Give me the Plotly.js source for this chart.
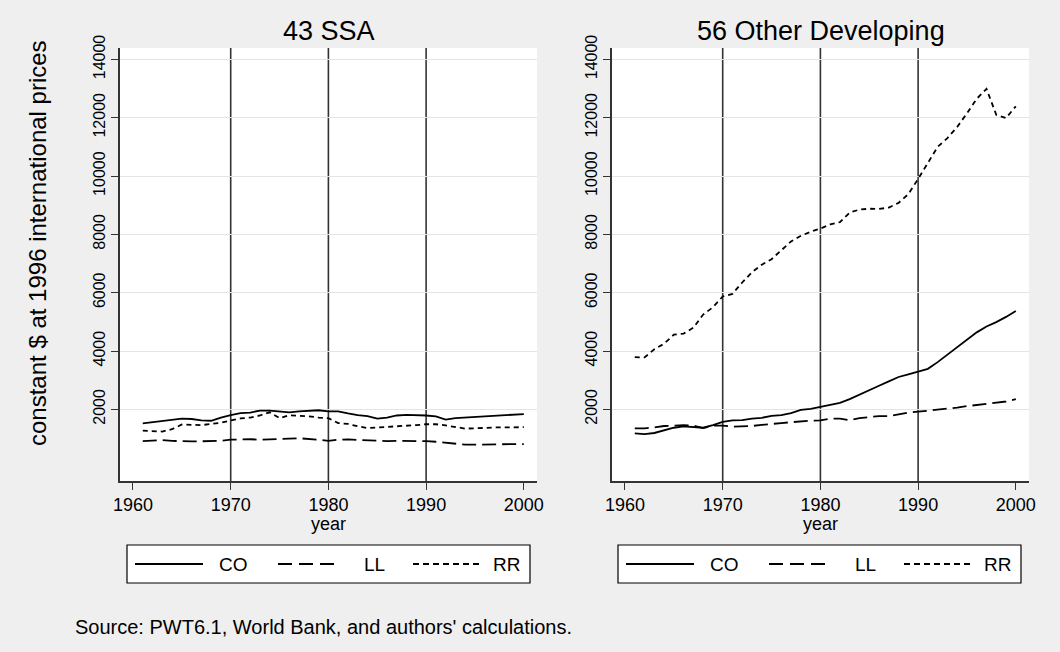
<!DOCTYPE html>
<html>
<head>
<meta charset="utf-8">
<script src="https://cdn.plot.ly/plotly-3.0.1.min.js"></script>
<style>html,body{margin:0;padding:0;background:#efefef;}#chart{width:1060px;height:652px;}</style>
</head>
<body>
<div id="chart"></div>
<script>
// ---- data ----
var years = [1961,1962,1963,1964,1965,1966,1967,1968,1969,1970,
             1971,1972,1973,1974,1975,1976,1977,1978,1979,1980,
             1981,1982,1983,1984,1985,1986,1987,1988,1989,1990,
             1991,1992,1993,1994,1995,1996,1997,1998,1999,2000];

var panelTitles = ["43 SSA", "56 Other Developing"];
var seriesNames = ["CO", "LL", "RR"];

// 43 SSA
var ssaCO = [1520,1560,1600,1650,1680,1670,1620,1610,1720,1800,
             1870,1890,1960,1960,1920,1900,1930,1960,1970,1930,
             1930,1860,1800,1770,1680,1720,1790,1810,1810,1790,
             1760,1650,1700,1720,1740,1780,1800,1820,1840,1840];
var ssaLL = [910,930,950,920,900,900,905,905,920,960,
             980,975,960,980,990,1000,1010,990,960,920,
             960,970,950,930,910,910,920,920,930,910,
             890,860,830,790,790,800,810,810,810,810];
var ssaRR = [1270,1260,1240,1320,1480,1470,1460,1500,1540,1620,
             1690,1720,1790,1900,1700,1800,1790,1760,1720,1700,
             1530,1500,1420,1360,1380,1400,1400,1430,1460,1490,
             1490,1450,1400,1340,1350,1370,1380,1380,1380,1390];

// 56 Other Developing
var odCO = [1180,1150,1190,1290,1370,1420,1390,1370,1460,1570,
            1620,1630,1680,1710,1780,1800,1870,1980,2020,2080,
            2140,2220,2350,2510,2670,2810,2960,3110,3200,3290,
            3390,3620,3870,4130,4400,4640,4840,4990,5170,5370];
var odLL = [1350,1350,1380,1430,1440,1460,1440,1360,1440,1440,
            1410,1410,1430,1470,1510,1530,1560,1590,1610,1620,
            1680,1680,1630,1700,1740,1770,1770,1830,1890,1920,
            1950,2000,2010,2060,2110,2150,2200,2240,2270,2350];
var odRR = [3790,3780,4060,4250,4560,4600,4800,5250,5500,5870,
            5960,6350,6700,6960,7150,7470,7760,7950,8090,8200,
            8340,8420,8750,8850,8880,8870,8920,9080,9380,9900,
            10450,11000,11300,11680,12150,12650,12990,12100,11990,12390];

var xTicks = [1960,1970,1980,1990,2000];
var yTicks = [2000,4000,6000,8000,10000,12000,14000];
var yTickText = ["2000","4000","6000","8000","10000","12000","14000"];
var xLines = [1970,1980,1990];

// ---- layout helpers ----
var W = 1060, H = 652;
function px(x){ return x / W; }
function py(y){ return 1 - y / H; }

var dashes = ["solid", "14px,6px", "5px,4px"];
var legendDashes = ["solid", "14px,7px", "6px,4px"];
var FONT = "Liberation Sans, Arial, Helvetica, sans-serif";

function mk(x, y, name, i, xa, ya){
  return {x: x, y: y, name: name, type: "scatter", mode: "lines",
          xaxis: xa, yaxis: ya, showlegend: false,
          line: {color: "#000", width: 1.8, dash: dashes[i]},
          hoverinfo: "skip"};
}

var traces = [
  mk(years, ssaCO, seriesNames[0], 0, "x", "y"),
  mk(years, ssaLL, seriesNames[1], 1, "x", "y"),
  mk(years, ssaRR, seriesNames[2], 2, "x", "y"),
  mk(years, odCO, seriesNames[0], 0, "x2", "y2"),
  mk(years, odLL, seriesNames[1], 1, "x2", "y2"),
  mk(years, odRR, seriesNames[2], 2, "x2", "y2")
];

var yTop = 48, yBot = 481;
var xRange = [1958.67, 2001.35];
var yRange = [-456, 14390];

function xax(d0, d1, anchor){
  return {domain: [px(d0), px(d1)], range: xRange, anchor: anchor, automargin: false,
          tickvals: xTicks, ticks: "outside", ticklen: 7, tickwidth: 1.3, tickcolor: "#333",
          showgrid: false, zeroline: false, showline: true, linecolor: "#333", linewidth: 1.5,
          tickfont: {size: 18, color: "#000", family: FONT}, fixedrange: true};
}
function yax(anchor){
  return {domain: [py(yBot), py(yTop)], range: yRange, anchor: anchor, automargin: false,
          tickvals: yTicks, ticktext: yTickText, ticks: "outside", ticklen: 7, tickwidth: 1.3, tickcolor: "#333",
          tickangle: -90, showgrid: true, gridcolor: "#e4e4e4", gridwidth: 1.3,
          zeroline: false, showline: true, linecolor: "#333", linewidth: 1.5,
          tickfont: {size: 16, color: "#000", family: FONT}, fixedrange: true};
}

var shapes = [];
var ymaxVal = yRange[1];
var yminVal = yRange[0];
["x", "x2"].forEach(function(xr, k){
  var yr = k === 0 ? "y" : "y2";
  xLines.forEach(function(v){
    shapes.push({type: "line", xref: xr, yref: yr,
                 x0: v, x1: v, y0: yminVal, y1: ymaxVal, layer: "below",
                 line: {color: "#333", width: 1.6}});
  });
});

var panelCenters = [328.5, 820.5];
var annotations = [];
panelTitles.forEach(function(t, k){
  annotations.push({text: t, xref: "paper", yref: "paper", x: px(panelCenters[k]), y: py(31),
                    xanchor: "center", yanchor: "middle", showarrow: false,
                    font: {size: 27, color: "#000", family: FONT}});
  annotations.push({text: "year", xref: "paper", yref: "paper", x: px(panelCenters[k]), y: py(524),
                    xanchor: "center", yanchor: "middle", showarrow: false,
                    font: {size: 18, color: "#000", family: FONT}});
});
annotations.push({text: "constant $ at 1996 international prices", xref: "paper", yref: "paper",
                  x: px(38), y: py(243), xanchor: "center", yanchor: "middle", textangle: -90,
                  showarrow: false, font: {size: 24, color: "#000", family: FONT}});
annotations.push({text: "Source: PWT6.1, World Bank, and authors' calculations.", xref: "paper", yref: "paper",
                  x: px(73), y: py(627), xanchor: "left", yanchor: "middle",
                  showarrow: false, font: {size: 20, color: "#000", family: FONT}});

// ---- legends (one box under each panel) ----
var legendBoxes = [127, 618];          // left edge of each legend box (px)
var keyOffsets = [[8, 76], [151, 213], [286, 356]];   // key line start/end within box
var textOffsets = [90, 235, 364];      // label start within box
legendBoxes.forEach(function(x0){
  shapes.push({type: "rect", xref: "paper", yref: "paper",
               x0: px(x0), x1: px(x0 + 403), y0: py(583), y1: py(545),
               fillcolor: "#fff", line: {color: "#000", width: 1.2}});
  seriesNames.forEach(function(n, i){
    shapes.push({type: "line", xref: "paper", yref: "paper",
                 x0: px(x0 + keyOffsets[i][0]), x1: px(x0 + keyOffsets[i][1]),
                 y0: py(564), y1: py(564),
                 line: {color: "#000", width: 1.8, dash: legendDashes[i]}});
    annotations.push({text: n, xref: "paper", yref: "paper", x: px(x0 + textOffsets[i]), y: py(564),
                      xanchor: "left", yanchor: "middle", showarrow: false,
                      font: {size: 19, color: "#000", family: FONT}});
  });
});

var layout = {
  width: W, height: H, autosize: false,
  margin: {l: 0, r: 0, t: 0, b: 0, pad: 0},
  paper_bgcolor: "#efefef", plot_bgcolor: "#fff",
  font: {family: FONT, color: "#000"},
  xaxis: xax(120, 537, "y"),
  yaxis: yax("x"),
  xaxis2: xax(612, 1029, "y2"),
  yaxis2: yax("x2"),
  shapes: shapes,
  annotations: annotations,
  showlegend: false
};

Plotly.newPlot("chart", traces, layout, {displayModeBar: false});
</script>
</body>
</html>
